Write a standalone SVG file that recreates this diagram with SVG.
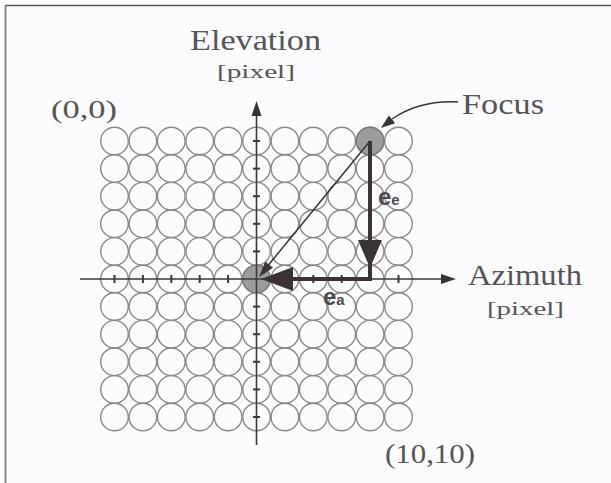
<svg xmlns="http://www.w3.org/2000/svg" xmlns:xlink="http://www.w3.org/1999/xlink" width="611" height="483" viewBox="0 0 611 483">
<style>
.cell{fill:none;stroke:#8a8a8a;stroke-width:1.4}
.hot{fill:#9c9c9c;stroke:#7a7a7a;stroke-width:1.4}
.axis{stroke:#3a3a3a;stroke-width:1.6;fill:none}
.tick{stroke:#3a3a3a;stroke-width:2}
.thick{stroke:#3b3333;stroke-width:4;fill:none}
.thin{stroke:#3b3333;stroke-width:1.5;fill:none}
.head{fill:#3b3333}
.lbl{font-family:"Liberation Serif","Times New Roman",serif;fill:#555}
.sym{font-family:"Liberation Sans",Arial,sans-serif;fill:#4a4a4a;font-weight:bold}
</style>
<defs>
<g id="row">
<circle class="cell" cx="114.5" cy="0" r="13.8"/>
<circle class="cell" cx="142.9" cy="0" r="13.8"/>
<circle class="cell" cx="171.3" cy="0" r="13.8"/>
<circle class="cell" cx="199.7" cy="0" r="13.8"/>
<circle class="cell" cx="228.1" cy="0" r="13.8"/>
<circle class="cell" cx="256.5" cy="0" r="13.8"/>
<circle class="cell" cx="284.9" cy="0" r="13.8"/>
<circle class="cell" cx="313.3" cy="0" r="13.8"/>
<circle class="cell" cx="341.7" cy="0" r="13.8"/>
<circle class="cell" cx="370.1" cy="0" r="13.8"/>
<circle class="cell" cx="398.5" cy="0" r="13.8"/>
</g>
</defs>
<rect width="611" height="483" fill="#fcfcfe"/>
<line x1="5" y1="5.5" x2="611" y2="5.5" stroke="#555" stroke-width="1.5"/>
<line x1="5.5" y1="5" x2="5.5" y2="483" stroke="#888" stroke-width="2"/>

<g id="grid">
<use xlink:href="#row" y="141"/>
<use xlink:href="#row" y="168.6"/>
<use xlink:href="#row" y="196.2"/>
<use xlink:href="#row" y="223.8"/>
<use xlink:href="#row" y="251.4"/>
<use xlink:href="#row" y="279"/>
<use xlink:href="#row" y="306.6"/>
<use xlink:href="#row" y="334.2"/>
<use xlink:href="#row" y="361.8"/>
<use xlink:href="#row" y="389.4"/>
<use xlink:href="#row" y="417"/>
</g>

<g id="focus-pixel"><circle class="hot" cx="370.1" cy="141" r="13.8"/></g>
<g id="origin-pixel"><circle class="hot" cx="256.5" cy="279" r="13.8"/></g>

<g id="axes">
<line class="axis" x1="256.5" y1="445" x2="256.5" y2="112"/>
<polygon class="head" points="256.5,101 251.5,116 261.5,116"/>
<line class="axis" x1="80" y1="279" x2="445" y2="279"/>
<polygon class="head" points="456,279 441,274 441,284"/>
<g class="tick">
<line x1="114.5" y1="275" x2="114.5" y2="283"/>
<line x1="142.9" y1="275" x2="142.9" y2="283"/>
<line x1="171.3" y1="275" x2="171.3" y2="283"/>
<line x1="199.7" y1="275" x2="199.7" y2="283"/>
<line x1="228.1" y1="275" x2="228.1" y2="283"/>
<line x1="313.3" y1="275" x2="313.3" y2="283"/>
<line x1="341.7" y1="275" x2="341.7" y2="283"/>
<line x1="398.5" y1="275" x2="398.5" y2="283"/>
<line x1="253" y1="141" x2="260" y2="141"/>
<line x1="253" y1="168.6" x2="260" y2="168.6"/>
<line x1="253" y1="196.2" x2="260" y2="196.2"/>
<line x1="253" y1="223.8" x2="260" y2="223.8"/>
<line x1="253" y1="251.4" x2="260" y2="251.4"/>
<line x1="253" y1="306.6" x2="260" y2="306.6"/>
<line x1="253" y1="334.2" x2="260" y2="334.2"/>
<line x1="253" y1="361.8" x2="260" y2="361.8"/>
<line x1="253" y1="389.4" x2="260" y2="389.4"/>
<line x1="253" y1="417" x2="260" y2="417"/>
</g>
</g>

<g id="connectors">
<path class="thick" d="M370,141 V279 H285"/>
<polygon class="head" points="370,268 358,240 382,240"/>
<polygon class="head" points="261,279 293,267 293,291"/>
<line class="thin" x1="370" y1="141" x2="266" y2="268"/>
<polygon class="head" points="259,277 273,267.8 265.2,261.4"/>
<path class="thin" d="M458,102 Q420,100 392,119"/>
<polygon class="head" points="381,128 395.1,123.2 388.9,115.4"/>
</g>

<g id="labels">
<text class="lbl" x="190" y="50" font-size="30" textLength="131" lengthAdjust="spacingAndGlyphs">Elevation</text>
<text class="lbl" x="217" y="78" font-size="19" textLength="78" lengthAdjust="spacingAndGlyphs">[pixel]</text>
<text class="lbl" x="51" y="118" font-size="25" textLength="66" lengthAdjust="spacingAndGlyphs">(0,0)</text>
<text class="lbl" x="462" y="114" font-size="29" textLength="82" lengthAdjust="spacingAndGlyphs">Focus</text>
<text class="lbl" x="468" y="285" font-size="29" textLength="114" lengthAdjust="spacingAndGlyphs">Azimuth</text>
<text class="lbl" x="487" y="315" font-size="19" textLength="77" lengthAdjust="spacingAndGlyphs">[pixel]</text>
<text class="lbl" x="385" y="463" font-size="27" textLength="90" lengthAdjust="spacingAndGlyphs">(10,10)</text>
<text class="sym" x="378" y="205" font-size="24">e<tspan font-size="15">e</tspan></text>
<text class="sym" x="323" y="305" font-size="24">e<tspan font-size="15">a</tspan></text>
</g>
</svg>
